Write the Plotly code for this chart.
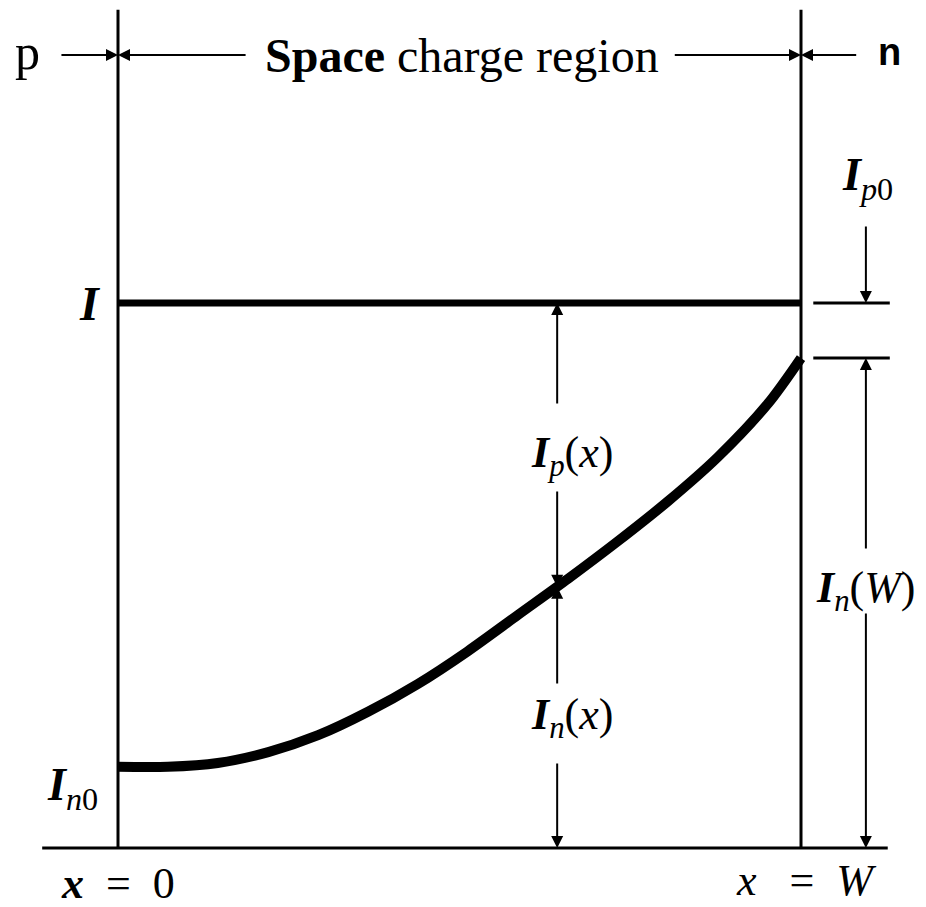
import numpy as np
import plotly.graph_objects as go

# ---------------- data (normalised: x in units of W, current in units of I) ----------------
x_pos = [0.0, 0.073, 0.146, 0.220, 0.293, 0.366, 0.439, 0.512, 0.586, 0.659,
         0.732, 0.805, 0.878, 0.952, 1.0]
I_n = [0.149, 0.149, 0.156, 0.176, 0.207, 0.250, 0.301, 0.361, 0.428, 0.494,
       0.563, 0.636, 0.717, 0.816, 0.899]
I_total = 1.0
W = 1.0
I_n0 = I_n[0]
I_nW = I_n[-1]

# ---------------- layout positions ----------------
X_MEAS = 0.643          # x where I_p(x), I_n(x) are indicated
X_RIGHT = 1.095         # x of the I_n(W) / I_p0 arrows
TICK_X = (1.018, 1.130)
Y_HEAD = 1.455          # header arrows
Y_TOP = 1.538           # top of boundary lines
BASE_X = (-0.111, 1.127)

FONT = "Liberation Serif"
BLACK = "#000000"
NB = "\u00a0"

fig = go.Figure()

# I_n(x) curve
fig.add_trace(go.Scatter(x=x_pos, y=I_n, mode="lines",
                         line=dict(color=BLACK, width=10, shape="spline", smoothing=0.8),
                         hoverinfo="skip", showlegend=False))

shapes = []
def line(x0, y0, x1, y1, w):
    shapes.append(dict(type="line", xref="x", yref="y", x0=x0, y0=y0, x1=x1, y1=y1,
                       line=dict(color=BLACK, width=w), layer="above"))

# boundaries of space charge region
line(0, 0, 0, Y_TOP, 3)
line(W, 0, W, Y_TOP, 3)
# baseline
line(BASE_X[0], 0, BASE_X[1], 0, 3)
# total current I
line(0, I_total, W, I_total, 7)
# right reference ticks
line(TICK_X[0], I_total, TICK_X[1], I_total, 3)
line(TICK_X[0], I_nW, TICK_X[1], I_nW, 3)

annotations = []
def arrow(x_tip, y_tip, x_tail, y_tail):
    annotations.append(dict(x=x_tip, y=y_tip, ax=x_tail, ay=y_tail, xref="x", yref="y",
                            axref="x", ayref="y", text="", showarrow=True,
                            arrowhead=2, arrowsize=1.2, arrowwidth=2, arrowcolor=BLACK,
                            standoff=0, startstandoff=0))

def label(x, y, text, size, family=FONT, xanchor="center"):
    annotations.append(dict(x=x, y=y, xref="x", yref="y", text=text, showarrow=False,
                            xanchor=xanchor, yanchor="middle",
                            font=dict(family=family, size=size, color=BLACK)))

# header
arrow(0, Y_HEAD, -0.085, Y_HEAD)
arrow(0, Y_HEAD, 0.189, Y_HEAD)
arrow(W, Y_HEAD, 0.813, Y_HEAD)
arrow(W, Y_HEAD, 1.083, Y_HEAD)
label(-0.132, Y_HEAD + 0.005, "p", 50)
label(1.130, Y_HEAD + 0.005, "<b>n</b>", 38, family="Liberation Sans")
label(0.504, Y_HEAD, "<b>Space</b> charge region", 48)

# measurement arrows at X_MEAS
y_curve = float(np.interp(X_MEAS, x_pos, I_n))
arrow(X_MEAS, I_total, X_MEAS, 0.813)
arrow(X_MEAS, y_curve, X_MEAS, 0.657)
arrow(X_MEAS, y_curve, X_MEAS, 0.299)
arrow(X_MEAS, 0, X_MEAS, 0.158)
label(0.665, 0.721, "<b><i>I</i></b><sub><i>p</i></sub>(<i>x</i>)", 44)
label(0.665, 0.239, "<b><i>I</i></b><sub><i>n</i></sub>(<i>x</i>)", 44)

# right side arrows
arrow(X_RIGHT, I_nW, X_RIGHT, 0.547)
arrow(X_RIGHT, 0, X_RIGHT, 0.433)
arrow(X_RIGHT, I_total, X_RIGHT, 1.143)
label(X_RIGHT, 0.473, "<b><i>I</i></b><sub><i>n</i></sub>(<i>W</i>)", 44)
label(1.098, 1.229, "<b><i>I</i></b><sub><i>p</i>0</sub>", 46)

# left labels
label(-0.041, I_total, "<b><i>I</i></b>", 48)
label(-0.067, 0.110, "<b><i>I</i></b><sub><i>n</i>0</sub>", 46)

# bottom labels
label(0.0, -0.066, "<b><i>x</i></b>" + NB + " =" + NB + " 0", 44)
label(1.007, -0.060, "<i>x</i>" + NB + NB + " =" + NB + " <i>W</i>", 44)

# the page body has an 8 px margin: map figure pixels so the page matches the target
BODY = 8
FIG_W, FIG_H = 926 - BODY, 907 - BODY
px_left, px_w = 118 - BODY, 683
py_base, py_h = 848 - BODY, 545
fig.update_layout(
    width=FIG_W, height=FIG_H,
    margin=dict(l=0, r=0, t=0, b=0),
    paper_bgcolor="white", plot_bgcolor="white",
    xaxis=dict(range=[-px_left / px_w, (FIG_W - px_left) / px_w], visible=False, fixedrange=True),
    yaxis=dict(range=[(py_base - FIG_H) / py_h, py_base / py_h], visible=False, fixedrange=True),
    shapes=shapes, annotations=annotations, showlegend=False,
)

fig.write_html("out.html")
